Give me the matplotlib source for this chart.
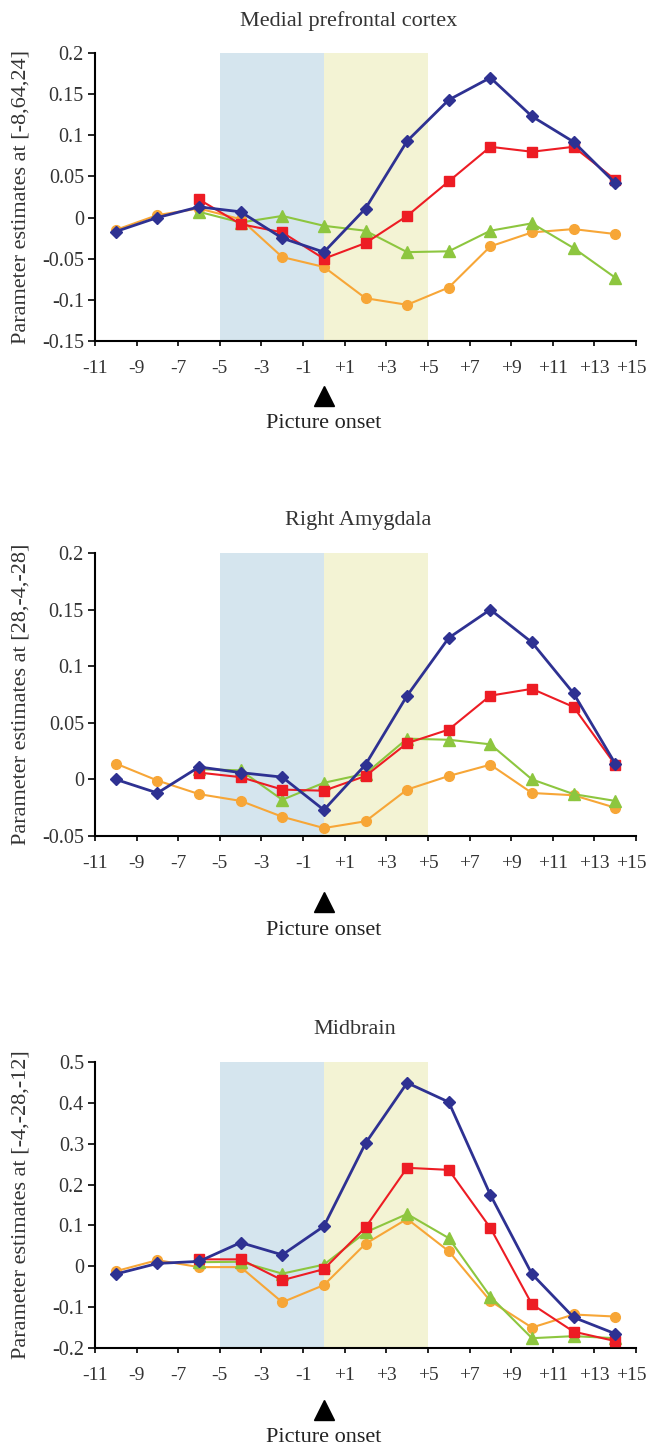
import numpy as np
import matplotlib
matplotlib.use("Agg")
import matplotlib.pyplot as plt
import matplotlib.transforms as mtransforms
from matplotlib.ticker import FixedLocator, FuncFormatter

plt.rcParams['font.family'] = ['Liberation Serif', 'DejaVu Serif']
plt.rcParams['axes.unicode_minus'] = False

# time bins (seconds relative to picture onset)
time = [-10, -8, -6, -4, -2, 0, 2, 4, 6, 8, 10, 12, 14]
nan = np.nan

titles = ["Medial prefrontal cortex", "Right Amygdala", "Midbrain"]
ylabels = ["Parameter estimates at [-8,64,24]",
           "Parameter estimates at [28,-4,-28]",
           "Parameter estimates at [-4,-28,-12]"]

# Medial prefrontal cortex
mpfc_blue = [-0.017, 0.000, 0.013, 0.007, -0.025, -0.042, 0.011, 0.093, 0.143, 0.170, 0.123, 0.092, 0.042]
mpfc_red = [nan, nan, 0.022, -0.008, -0.018, -0.050, -0.031, 0.002, 0.044, 0.086, 0.080, 0.086, 0.046]
mpfc_green = [nan, nan, 0.007, -0.006, 0.002, -0.010, -0.016, -0.042, -0.041, -0.016, -0.007, -0.037, -0.073]
mpfc_orange = [-0.015, 0.003, 0.011, -0.002, -0.048, -0.060, -0.098, -0.106, -0.085, -0.035, -0.018, -0.014, -0.020]

# Right amygdala
amy_blue = [0.000, -0.012, 0.011, 0.006, 0.002, -0.027, 0.013, 0.074, 0.125, 0.150, 0.121, 0.076, 0.014]
amy_red = [nan, nan, 0.006, 0.002, -0.009, -0.010, 0.003, 0.032, 0.044, 0.074, 0.080, 0.064, 0.013]
amy_green = [nan, nan, 0.009, 0.008, -0.018, -0.003, 0.005, 0.036, 0.035, 0.031, 0.000, -0.013, -0.019]
amy_orange = [0.014, -0.001, -0.013, -0.019, -0.033, -0.043, -0.037, -0.009, 0.003, 0.013, -0.012, -0.014, -0.025]

# Midbrain
mid_blue = [-0.019, 0.007, 0.012, 0.058, 0.028, 0.098, 0.301, 0.449, 0.402, 0.175, -0.019, -0.125, -0.165]
mid_red = [nan, nan, 0.017, 0.017, -0.034, -0.007, 0.095, 0.241, 0.236, 0.094, -0.093, -0.160, -0.183]
mid_green = [nan, nan, 0.010, 0.011, -0.018, 0.004, 0.083, 0.128, 0.069, -0.074, -0.176, -0.171, -0.176]
mid_orange = [-0.012, 0.015, -0.002, -0.002, -0.088, -0.046, 0.055, 0.116, 0.037, -0.085, -0.150, -0.118, -0.123]

panels = [
    (mpfc_blue, mpfc_red, mpfc_green, mpfc_orange),
    (amy_blue, amy_red, amy_green, amy_orange),
    (mid_blue, mid_red, mid_green, mid_orange),
]
ylims = [(-0.15, 0.2), (-0.05, 0.2), (-0.2, 0.5)]
ysteps = [0.05, 0.05, 0.1]
xticks = list(range(-11, 16, 2))

# layout (pixels in a 648x1450 figure)
W, H = 648, 1450
ax_left, ax_right = 95, 636
ax_tops = [53, 553, 1062]
ax_bottoms = [341, 836, 1348]
title_x = [0.468, 0.486, 0.48]
onset_offsets = [(55, 83), (66, 95), (62, 90)]

c_blue = "#2e3192"
c_red = "#ed1c24"
c_green = "#8dc63f"
c_orange = "#f7a637"

fig = plt.figure(figsize=(W / 100, H / 100), dpi=100)

for i, (blue, red, green, orange) in enumerate(panels):
    ax = fig.add_axes([ax_left / W, 1 - ax_bottoms[i] / H,
                       (ax_right - ax_left) / W, (ax_bottoms[i] - ax_tops[i]) / H])
    h = ax_bottoms[i] - ax_tops[i]

    ax.axvspan(-5, 0, color="#d5e5ee", lw=0, zorder=0)
    ax.axvspan(0, 5, color="#f3f3d4", lw=0, zorder=0)

    ax.plot(time, orange, color=c_orange, marker='o', ms=7, lw=1.5, zorder=3, clip_on=False)
    ax.plot(time, green, color=c_green, marker='^', ms=8, lw=1.5, zorder=4, clip_on=False)
    ax.plot(time, red, color=c_red, marker='s', ms=6.5, lw=1.5, zorder=5, clip_on=False)
    ax.plot(time, blue, color=c_blue, marker='D', ms=6.5, lw=2.0, zorder=6, clip_on=False)

    ax.set_xlim(-11, 15)
    ax.set_ylim(*ylims[i])
    lo, hi = ylims[i]
    yt = np.round(np.arange(lo, hi + 1e-9, ysteps[i]), 3)
    ax.yaxis.set_major_locator(FixedLocator(yt))
    ax.yaxis.set_major_formatter(FuncFormatter(lambda v, p: "0" if abs(v) < 1e-9 else f"{v:g}"))
    ax.xaxis.set_major_locator(FixedLocator(xticks))
    ax.xaxis.set_major_formatter(FuncFormatter(lambda v, p: f"{int(v):+d}" if v > 0 else f"{int(v)}"))

    for s in ['top', 'right']:
        ax.spines[s].set_visible(False)
    for s in ['left', 'bottom']:
        ax.spines[s].set_linewidth(1.5)
    ax.tick_params(axis='y', direction='out', length=5, width=1.2, pad=3,
                   labelsize=14.5, labelcolor="#333333")
    ax.tick_params(axis='x', direction='out', length=3.5, width=1.2, pad=10,
                   labelsize=14, labelcolor="#333333")

    # last x label sits against the right edge; nudge it inwards
    fig.canvas.draw()
    last = ax.get_xticklabels()[-1]
    last.set_transform(last.get_transform() +
                       mtransforms.ScaledTranslation(-5 / 100, 0, fig.dpi_scale_trans))

    ax.set_ylabel(ylabels[i], fontsize=16, color="#333333")
    ax.yaxis.set_label_coords(-(ax_left - 30) / (ax_right - ax_left), 0.5)

    ax.text(title_x[i], 1 + 32 / h, titles[i],
            transform=ax.transAxes, ha='center', va='center', fontsize=16, color="#333333")

    tri_off, lab_off = onset_offsets[i]
    ax.plot([0], [-tri_off / h], marker='^', ms=15, color="black",
            transform=ax.get_xaxis_transform(), clip_on=False)
    ax.text(0, -lab_off / h, "Picture onset",
            transform=ax.get_xaxis_transform(), ha='center', va='center',
            fontsize=16, color="#222222")

fig.savefig("out.png", dpi=100)
